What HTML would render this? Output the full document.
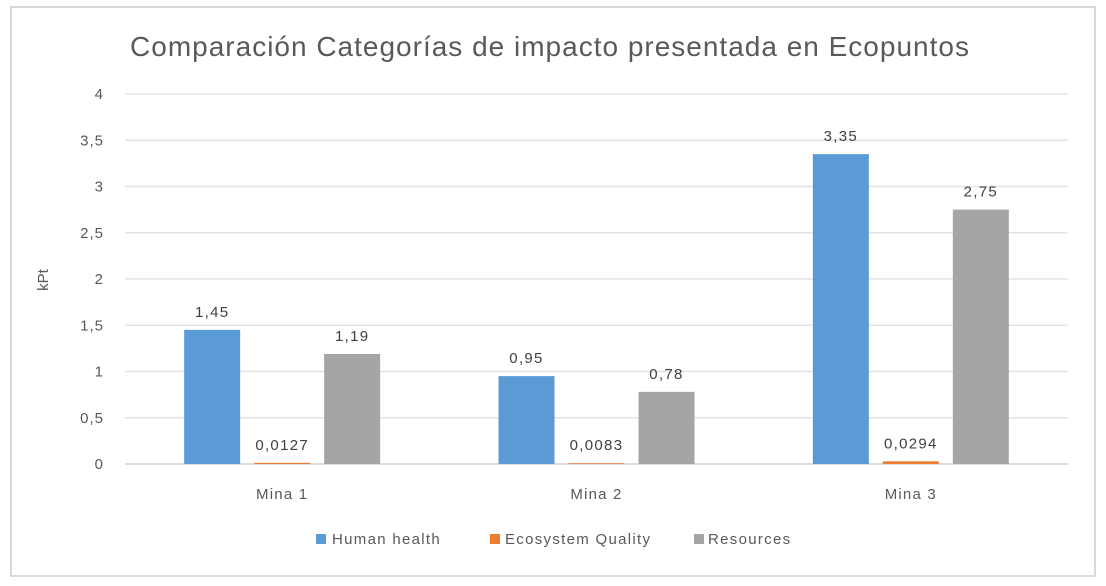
<!DOCTYPE html>
<html><head><meta charset="utf-8"><style>
body{margin:0;background:#fff;}
svg{display:block;font-family:"Liberation Sans",sans-serif;}
</style></head><body>
<svg id="c" width="1106" height="586">
<rect x="11" y="7" width="1084" height="569" fill="#fff" stroke="#d9d9d9" stroke-width="2"/>
<text x="550" y="56" text-anchor="middle" font-size="28" letter-spacing="1" fill="#595959">Comparación Categorías de impacto presentada en Ecopuntos</text>
<text transform="translate(48,280) rotate(-90)" text-anchor="middle" font-size="15" fill="#595959">kPt</text>
<g id="grid"></g><g id="bars"></g>
<g letter-spacing="1.3">
<rect x="316" y="534" width="10" height="10" fill="#5b9bd5"/>
<text x="332" y="544" font-size="15" fill="#595959">Human health</text>
<rect x="490" y="534" width="10" height="10" fill="#ed7d31"/>
<text x="505" y="544" font-size="15" fill="#595959">Ecosystem Quality</text>
<rect x="694" y="534" width="10" height="10" fill="#a5a5a5"/>
<text x="708" y="544" font-size="15" fill="#595959">Resources</text>
</g>
</svg>
<script>
const categories=["Mina 1","Mina 2","Mina 3"];
const humanHealth=[1.45,0.95,3.35];
const ecosystemQuality=[0.0127,0.0083,0.0294];
const resources=[1.19,0.78,2.75];
const labelsHH=["1,45","0,95","3,35"];
const labelsEQ=["0,0127","0,0083","0,0294"];
const labelsR=["1,19","0,78","2,75"];
const ticks=[0,0.5,1,1.5,2,2.5,3,3.5,4];
const tickLabels=["0","0,5","1","1,5","2","2,5","3","3,5","4"];
const NS="http://www.w3.org/2000/svg";
const x0=125,x1=1068,y0=464,yTop=94,yMax=4;
const y=v=>y0-(v/yMax)*(y0-yTop);
const gw=(x1-x0)/categories.length;
const cx=i=>x0+gw*(i+0.5);
function mk(t,a,p){const e=document.createElementNS(NS,t);for(const k in a)e.setAttribute(k,a[k]);p.appendChild(e);return e;}
const grid=document.getElementById('grid'),bars=document.getElementById('bars');
ticks.forEach((t,i)=>{
 const l=mk('line',{x1:x0,x2:x1,y1:y(t),y2:y(t),stroke:t===0?'#d0d0d0':'#e3e3e3','stroke-width':1.5},grid);
 
 
 const tx=mk('text',{x:104,y:y(t)+5,'text-anchor':'end','font-size':15,'letter-spacing':1,fill:'#595959'},grid);
 tx.textContent=tickLabels[i];
 
 
});
const series=[[humanHealth,labelsHH,'#5b9bd5',-70,'human-health'],[ecosystemQuality,labelsEQ,'#ed7d31',0,'ecosystem-quality'],[resources,labelsR,'#a5a5a5',70,'resources']];
categories.forEach((c,i)=>{
 series.forEach(s=>{
  const v=s[0][i],bx=cx(i)+s[3]-28;
  const r=mk('rect',{x:bx,y:y(v),width:56,height:Math.max(y0-y(v),0),fill:s[2]},bars);
  
  
  const t=mk('text',{x:cx(i)+s[3],y:y(v)-13,'text-anchor':'middle','font-size':15,'letter-spacing':1.3,fill:'#404040'},bars);
  t.textContent=s[1][i];
  
  
 });
 const t=mk('text',{x:cx(i),y:499,'text-anchor':'middle','font-size':15,'letter-spacing':1.2,fill:'#595959'},bars);
 t.textContent=c;
 
 
});
</script>
</body></html>
